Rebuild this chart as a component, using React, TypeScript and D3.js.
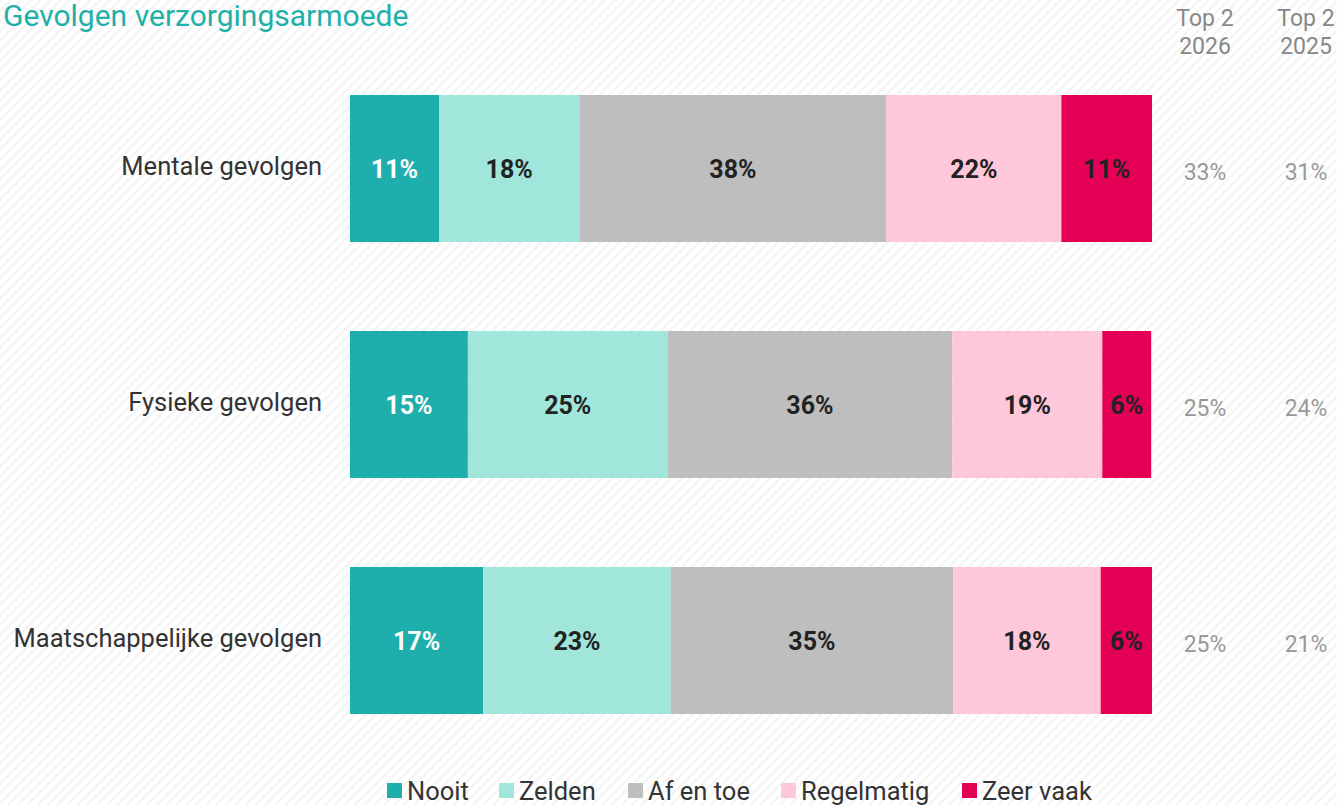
import React from "react";
import * as d3 from "d3";

const categories = ["Mentale gevolgen", "Fysieke gevolgen", "Maatschappelijke gevolgen"];
const seriesNames = ["Nooit", "Zelden", "Af en toe", "Regelmatig", "Zeer vaak"];
const seriesColors = ["#1eafac", "#a0e6da", "#bebebe", "#ffc7da", "#e40054"];
const labelColors = ["#ffffff", "#222222", "#222222", "#222222", "#222222"];
const nooit = [11.1, 14.7, 16.6];
const zelden = [17.5, 24.9, 23.4];
const afEnToe = [38.3, 35.5, 35.2];
const regelmatig = [21.8, 18.7, 18.4];
const zeerVaak = [11.3, 6.1, 6.4];
const top2026 = ["33%", "25%", "25%"];
const top2025 = ["31%", "24%", "21%"];
const topHeaders = [["Top 2", "2026"], ["Top 2", "2025"]];
const title = "Gevolgen verzorgingsarmoede";

const W = 1337;
const H = 805;
const FONT = "Roboto, 'Noto Sans', sans-serif";

export default function App() {
  const series = [nooit, zelden, afEnToe, regelmatig, zeerVaak];
  const rows = categories.map((c, i) => {
    const o: any = { cat: c };
    seriesNames.forEach((s, j) => (o[s] = series[j][i]));
    return o;
  });
  const stack = d3.stack<any>().keys(seriesNames)(rows);
  const x = d3.scaleLinear().domain([0, 100]).range([350, 1152]);
  const y = d3.scaleBand().domain(categories).range([95, 714]).paddingInner(0.377).paddingOuter(0);
  const colX = [1205, 1306];
  const topCols = [top2026, top2025];
  const legendX = [387, 499, 628, 781, 962];

  return (
    <svg width={W} height={H} style={{ position: "absolute", left: 0, top: 0, display: "block" }}>
      <defs>
        <pattern id="hatch" width="7" height="7" patternUnits="userSpaceOnUse" patternTransform="rotate(45)">
          <rect width="7" height="7" fill="#ffffff" />
          <line x1="0" y1="0" x2="0" y2="7" stroke="#f0f0f0" strokeWidth="3" />
        </pattern>
      </defs>
      <rect width={W} height={H} fill="url(#hatch)" />
      <text x={3} y={26} fill="#1fb0a9" fontFamily={FONT} fontSize={30}>{title}</text>
      {topHeaders.map((h, k) => (
        <g key={k}>
          <text x={colX[k]} y={26} textAnchor="middle" fill="#888" fontFamily={FONT} fontSize={23}>{h[0]}</text>
          <text x={colX[k]} y={54} textAnchor="middle" fill="#888" fontFamily={FONT} fontSize={23}>{h[1]}</text>
        </g>
      ))}
      {stack.map((layer, j) => (
        <g key={j}>
          {layer.map((d, i) => {
            const x0 = x(d[0]);
            const x1 = x(d[1]);
            const yy = y(categories[i])!;
            return (
              <g key={i}>
                <rect x={x0} y={yy} width={x1 - x0} height={y.bandwidth()} fill={seriesColors[j]} />
                <text x={(x0 + x1) / 2} y={yy + y.bandwidth() / 2 + 1} dy="0.35em" textAnchor="middle"
                  fill={labelColors[j]} fontFamily={FONT} fontWeight={700} fontSize={25}>
                  {Math.round(series[j][i])}%
                </text>
              </g>
            );
          })}
        </g>
      ))}
      {categories.map((c, i) => {
        const cy = y(c)! + y.bandwidth() / 2;
        return (
          <g key={c}>
            <text x={322} y={cy - 2} dy="0.35em" textAnchor="end" fill="#333" fontFamily={FONT} fontSize={25.5}>{c}</text>
            {topCols.map((col, k) => (
              <text key={k} x={colX[k]} y={cy + 3} dy="0.35em" textAnchor="middle" fill="#999" fontFamily={FONT} fontSize={23}>{col[i]}</text>
            ))}
          </g>
        );
      })}
      {seriesNames.map((s, j) => (
        <g key={s}>
          <rect x={legendX[j]} y={783} width={15} height={15} fill={seriesColors[j]} />
          <text x={legendX[j] + 20} y={800} fill="#333" fontFamily={FONT} fontSize={25.5}>{s}</text>
        </g>
      ))}
    </svg>
  );
}
